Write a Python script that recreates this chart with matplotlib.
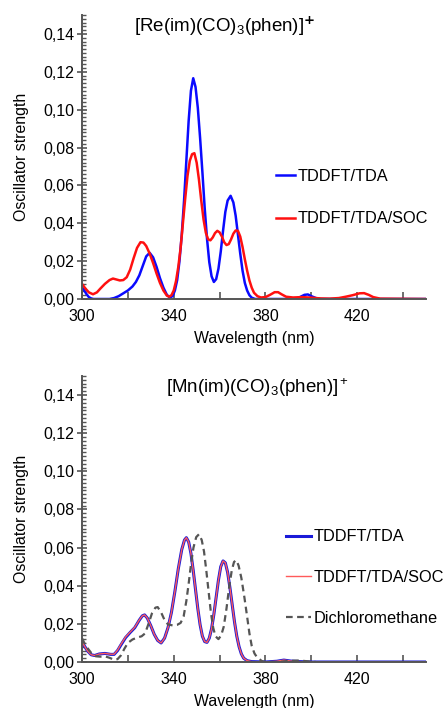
import matplotlib
matplotlib.use("Agg")
from matplotlib import pyplot as plt
from matplotlib.ticker import MultipleLocator, FixedLocator, FuncFormatter

plt.rcParams['font.family'] = ['Liberation Sans', 'DejaVu Sans']
plt.rcParams['mathtext.fontset'] = 'custom'
plt.rcParams['mathtext.rm'] = 'Liberation Sans'
plt.rcParams['mathtext.it'] = 'Liberation Sans'

# [Re(im)(CO)3(phen)]+ : TDDFT/TDA
re_tda_wl = [300, 301, 302, 303, 304, 305, 312, 314, 316, 318, 320, 322, 323.5, 325, 326.5,
             328, 329.5, 331, 332.5, 334, 335.5, 337, 338.3, 339.5, 340.5, 341.5, 342.5,
             343.5, 344.5, 345.5, 346.5, 347.5, 348.5, 349.5, 350.5, 351.5, 352.5, 353.5,
             354.5, 355.5, 356.5, 357.5, 358.5, 359.5, 360.5, 361.5, 362.5, 363.5, 364.8,
             366, 367, 368, 369, 370, 371, 372, 373, 374, 375.5, 393, 395, 397, 398.5, 400,
             402, 404, 450]
re_tda_f = [0.0063, 0.0045, 0.0025, 0.0010, 0.0003, 0.0, 0.0, 0.0005, 0.0015, 0.0030, 0.0045,
            0.0066, 0.0090, 0.0125, 0.0175, 0.0225, 0.0244, 0.0220, 0.0170, 0.0110, 0.0060,
            0.0022, 0.0008, 0.0015, 0.0045, 0.0100, 0.0200, 0.0340, 0.0520, 0.0730, 0.0940,
            0.1100, 0.1166, 0.1120, 0.1010, 0.0850, 0.0670, 0.0480, 0.0320, 0.0195, 0.0120,
            0.0090, 0.0105, 0.0160, 0.0250, 0.0360, 0.0460, 0.0520, 0.0545, 0.0510, 0.0440,
            0.0340, 0.0240, 0.0150, 0.0085, 0.0045, 0.0020, 0.0007, 0.0, 0.0, 0.0010, 0.0022,
            0.0024, 0.0015, 0.0005, 0.0, 0.0]

# [Re(im)(CO)3(phen)]+ : TDDFT/TDA/SOC
re_soc_wl = [300, 301.5, 303, 304.8, 306.5, 308, 310, 312, 313.5, 315, 316.5, 318, 319.5, 321,
             322.5, 324, 325.5, 326.8, 328, 329.5, 331, 332.5, 334, 335.5, 337, 338, 339, 340,
             341, 342, 343, 344, 345, 346, 347, 348, 349, 350, 351, 352, 353, 354, 355, 356,
             357, 358, 359, 360, 361, 362, 363, 364, 365, 366, 367, 368, 369, 370, 371, 372,
             373, 374, 375, 376.5, 378, 380, 382, 384, 385.5, 387, 389, 392, 396, 400, 404,
             408, 412, 415, 418, 421, 423, 425, 427, 430, 450]
re_soc_f = [0.0080, 0.0055, 0.0035, 0.0025, 0.0035, 0.0055, 0.0080, 0.0100, 0.0108, 0.0103,
            0.0098, 0.0100, 0.0115, 0.0155, 0.0215, 0.0270, 0.0300, 0.0298, 0.0280, 0.0240,
            0.0190, 0.0135, 0.0085, 0.0045, 0.0018, 0.0012, 0.0020, 0.0045, 0.0095, 0.0170,
            0.0270, 0.0400, 0.0530, 0.0650, 0.0730, 0.0765, 0.0770, 0.0720, 0.0630, 0.0520,
            0.0420, 0.0350, 0.0315, 0.0310, 0.0325, 0.0348, 0.0360, 0.0352, 0.0330, 0.0300,
            0.0285, 0.0290, 0.0315, 0.0345, 0.0362, 0.0360, 0.0330, 0.0275, 0.0210, 0.0150,
            0.0098, 0.0060, 0.0033, 0.0015, 0.0008, 0.0010, 0.0022, 0.0036, 0.0036, 0.0025,
            0.0012, 0.0008, 0.0010, 0.0007, 0.0003, 0.0002, 0.0005, 0.0012, 0.0020, 0.0030,
            0.0031, 0.0022, 0.0010, 0.0002, 0.0]

# [Mn(im)(CO)3(phen)]+ : TDDFT/TDA (TDA/SOC lies on top of it)
mn_wl = [300, 301, 302.4, 304, 305.5, 307.5, 310, 312.5, 314, 315.5, 317, 319, 321, 323, 325,
         326.3, 327.3, 328.5, 330, 331.5, 333, 334.5, 336, 337.5, 339, 340.5, 342, 343.5,
         344.7, 345.5, 346.5, 347.5, 348.5, 349.5, 350.5, 351.5, 352.5, 353.5, 354.5, 355.5,
         356.5, 357.5, 358.5, 359.5, 360.5, 361.5, 362.5, 363.5, 364.5, 365.5, 366.5, 367.5,
         368.5, 369.5, 370.5, 372, 374, 380, 385, 388, 391, 395, 400, 450]
mn_tda_f = [0.0108, 0.0085, 0.0058, 0.0038, 0.0034, 0.0042, 0.0045, 0.0040, 0.0040, 0.0060,
            0.0090, 0.0128, 0.0155, 0.0180, 0.0220, 0.0242, 0.0247, 0.0230, 0.0190, 0.0145,
            0.0113, 0.0100, 0.0125, 0.0180, 0.0260, 0.0370, 0.0490, 0.0590, 0.0640, 0.0652,
            0.0630, 0.0570, 0.0480, 0.0380, 0.0280, 0.0195, 0.0135, 0.0107, 0.0103, 0.0125,
            0.0175, 0.0250, 0.0340, 0.0430, 0.0500, 0.0530, 0.0520, 0.0470, 0.0390, 0.0300,
            0.0210, 0.0135, 0.0080, 0.0042, 0.0020, 0.0007, 0.0002, 0.0, 0.0004, 0.0010,
            0.0005, 0.0002, 0.0, 0.0]
mn_soc_f = [0.0108, 0.0085, 0.0058, 0.0038, 0.0034, 0.0042, 0.0045, 0.0041, 0.0041, 0.0062,
            0.0093, 0.0131, 0.0157, 0.0182, 0.0221, 0.0242, 0.0247, 0.0230, 0.0190, 0.0145,
            0.0113, 0.0100, 0.0125, 0.0180, 0.0260, 0.0370, 0.0490, 0.0590, 0.0640, 0.0652,
            0.0630, 0.0570, 0.0480, 0.0380, 0.0280, 0.0195, 0.0135, 0.0107, 0.0103, 0.0125,
            0.0175, 0.0250, 0.0340, 0.0430, 0.0500, 0.0530, 0.0520, 0.0470, 0.0390, 0.0300,
            0.0210, 0.0135, 0.0080, 0.0042, 0.0020, 0.0007, 0.0002, 0.0, 0.0004, 0.0010,
            0.0005, 0.0002, 0.0, 0.0]

# [Mn(im)(CO)3(phen)]+ : dichloromethane
dcm_wl = [300, 301, 302.4, 304, 306, 308, 310, 312, 314, 315.5, 317, 318.5, 320, 322, 324, 326,
          327.5, 329, 330.5, 332, 333, 334.5, 336, 337.5, 339.5, 341.5, 343, 344.3, 345.5,
          346.5, 347.5, 348.6, 349.8, 351, 352.2, 353.2, 354.2, 355.2, 356.2, 357.2, 358.2,
          359.5, 360.7, 361.8, 363, 364.2, 365.3, 366.3, 367.3, 368.3, 369.5, 370.8, 372, 373,
          374, 375.2, 376.3, 378.4, 380, 386, 390, 395, 398, 402]
dcm_f = [0.0125, 0.0100, 0.0073, 0.0048, 0.0030, 0.0028, 0.0030, 0.0022, 0.0012, 0.0015, 0.0035,
         0.0070, 0.0100, 0.0118, 0.0128, 0.0135, 0.0150, 0.0200, 0.0255, 0.0285, 0.0288, 0.0260,
         0.0220, 0.0197, 0.0192, 0.0195, 0.0205, 0.0238, 0.0320, 0.0410, 0.0510, 0.0600, 0.0655,
         0.0670, 0.0640, 0.0580, 0.0480, 0.0370, 0.0260, 0.0180, 0.0135, 0.0120, 0.0140, 0.0185,
         0.0280, 0.0395, 0.0480, 0.0525, 0.0534, 0.0505, 0.0440, 0.0340, 0.0238, 0.0150, 0.0085,
         0.0045, 0.0025, 0.0005, 0.0, 0.0, 0.0006, 0.0008, 0.0004, 0.0]

x_labels = [300, 340, 380, 420]
y_ticks = [0.00, 0.02, 0.04, 0.06, 0.08, 0.10, 0.12, 0.14]

fig = plt.figure(figsize=(4.48, 7.08), dpi=100)
ax1 = fig.add_axes([82 / 448, 1 - 299 / 708, 344 / 448, 284 / 708])
ax2 = fig.add_axes([82 / 448, 1 - 662 / 708, 344 / 448, 286 / 708])

ax1.plot(re_tda_wl, re_tda_f, color='#0a0aff', lw=1.8, label='TDDFT/TDA')
ax1.plot(re_soc_wl, re_soc_f, color='#ff1010', lw=1.8, label='TDDFT/TDA/SOC')

ax2.plot(mn_wl, mn_tda_f, color='#1a1ad8', lw=2.2, label='TDDFT/TDA')
ax2.plot(mn_wl, mn_soc_f, color='#ff5a5a', lw=1.0, label='TDDFT/TDA/SOC')
ax2.plot(dcm_wl, dcm_f, color='#555555', lw=1.6, ls=(0, (3, 2)), label='Dichloromethane')

comma = FuncFormatter(lambda v, p: f'{v:.2f}'.replace('.', ','))

for ax in (ax1, ax2):
    ax.set_xlim(300, 450)
    ax.set_ylim(0, 0.15)
    for s in ('top', 'right'):
        ax.spines[s].set_visible(False)
    for s in ('left', 'bottom'):
        ax.spines[s].set_color('#555555')
        ax.spines[s].set_linewidth(1.4)
    ax.xaxis.set_major_locator(FixedLocator(x_labels))
    ax.xaxis.set_minor_locator(FixedLocator([320, 360, 400, 440]))
    ax.yaxis.set_major_locator(FixedLocator(y_ticks))
    ax.yaxis.set_minor_locator(MultipleLocator(0.002))
    ax.yaxis.set_major_formatter(comma)
    ax.tick_params(axis='x', which='both', direction='in', length=5, width=1.2,
                   color='#555555', labelsize=11.5, pad=7)
    ax.tick_params(axis='y', which='major', direction='inout', length=7, width=1.2,
                   color='#555555', labelsize=11.5, pad=2)
    ax.tick_params(axis='y', which='minor', direction='in', length=3, width=1.0,
                   color='#555555')
    ax.set_xlabel('Wavelength (nm)', fontsize=11.4, labelpad=5)
    ax.set_ylabel('Oscillator strength', fontsize=11.4, labelpad=10)

ax1.text(0.416, 0.961, r'[Re(im)(CO)$_3$(phen)]$^\mathbf{+}$', transform=ax1.transAxes,
         ha='center', va='center', fontsize=13.5)
ax2.text(0.51, 0.96, r'[Mn(im)(CO)$_3$(phen)]$^+$', transform=ax2.transAxes,
         ha='center', va='center', fontsize=13.5)

ax1.legend(loc='upper left', bbox_to_anchor=(0.564, 0.457), frameon=False, fontsize=11.8,
           handlelength=1.15, handletextpad=0.15, labelspacing=1.65, borderpad=0,
           borderaxespad=0)
ax2.legend(loc='upper left', bbox_to_anchor=(0.593, 0.464), frameon=False, fontsize=11.8,
           handlelength=1.55, handletextpad=0.15, labelspacing=1.58, borderpad=0,
           borderaxespad=0)

fig.savefig('out.png', dpi=100)
